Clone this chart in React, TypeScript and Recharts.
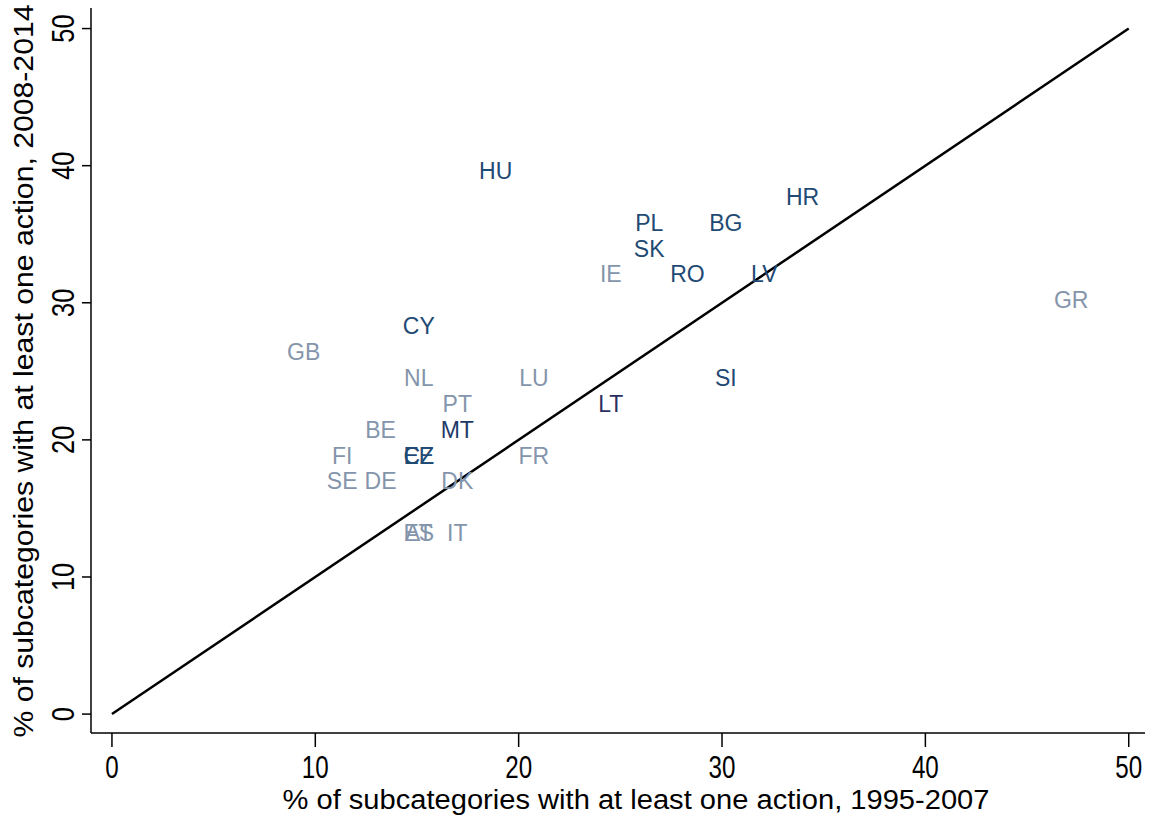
import React from "react";
import { ScatterChart, Scatter, XAxis, YAxis, ReferenceLine } from "recharts";

const countries = ["HU","HR","PL","BG","SK","IE","RO","LV","GR","CY","GB","NL","LU","SI","PT","LT","BE","MT","FI","CZ","EE","FR","SE","DE","DK","AT","ES","IT"];
const share1995 = [18.87,33.96,26.42,30.19,26.42,24.53,28.30,32.08,47.17,15.09,9.43,15.09,20.75,30.19,16.98,24.53,13.21,16.98,11.32,15.09,15.09,20.75,11.32,13.21,16.98,15.09,15.09,16.98];
const share2008 = [39.62,37.74,35.85,35.85,33.96,32.08,32.08,32.08,30.19,28.30,26.42,24.53,24.53,24.53,22.64,22.64,20.75,20.75,18.87,18.87,18.87,18.87,16.98,16.98,16.98,13.21,13.21,13.21];
const groups = ["dark","dark","dark","dark","dark","light","dark","dark","light","dark","light","light","light","dark","light","purple","light","navy","light","dark","dark","light","light","light","light","light","light","light"];
const xTicks = [0,10,20,30,40,50];
const yTicks = [0,10,20,30,40,50];
const diagonal = [{ x: 0, y: 0 }, { x: 50, y: 50 }];

const palette: Record<string, string> = {
  dark: "#1f4a74",
  navy: "#1d3a68",
  purple: "#2b2f5f",
  light: "#8495ab",
};

const data = countries.map((c, i) => ({ name: c, x: share1995[i], y: share2008[i], color: palette[groups[i]] }));

const FONT = "'Liberation Sans', Arial, sans-serif";

const LabelShape = (props: any) => {
  const { cx, cy, payload } = props;
  return (
    <text x={cx} y={cy} dy={8.2} textAnchor="middle" fontSize={23} fontFamily={FONT} fill={payload.color}>
      {payload.name}
    </text>
  );
};

const XTick = (props: any) => {
  const { x, payload } = props;
  return (
    <g transform={`translate(${x}, 778) scale(0.78, 1)`}>
      <text x={0} y={0} textAnchor="middle" fontSize={31} fontFamily={FONT} fill="#000">
        {String(payload.value)}
      </text>
    </g>
  );
};

const YTick = (props: any) => {
  const { y, payload } = props;
  return (
    <g transform={`translate(74, ${y}) rotate(-90) scale(0.82, 1)`}>
      <text x={0} y={0} textAnchor="middle" fontSize={31} fontFamily={FONT} fill="#000">
        {String(payload.value)}
      </text>
    </g>
  );
};

const XTitle = () => (
  <text x={636} y={809} textAnchor="middle" fontSize={27} fontFamily={FONT} fill="#000" textLength={707} lengthAdjust="spacingAndGlyphs">
    % of subcategories with at least one action, 1995-2007
  </text>
);

const YTitle = () => (
  <text transform="translate(33, 371) rotate(-90)" x={0} y={0} textAnchor="middle" fontSize={27} fontFamily={FONT} fill="#000" textLength={733} lengthAdjust="spacingAndGlyphs">
    % of subcategories with at least one action, 2008-2014
  </text>
);

export default function App() {
  return (
    <div style={{ position: "absolute", left: 0, top: 0, width: 1172, height: 821, background: "#fff" }}>
      <ScatterChart width={1172} height={821} margin={{ top: 8, right: 27, bottom: 0, left: 0 }}>
        <XAxis
          type="number"
          dataKey="x"
          domain={[-1.03, 50.8]}
          ticks={xTicks}
          height={88}
          tickSize={14}
          tick={<XTick />}
          axisLine={{ stroke: "#000", strokeWidth: 1.5 }}
          tickLine={{ stroke: "#000", strokeWidth: 1.5 }}
          allowDataOverflow
          label={<XTitle />}
        />
        <YAxis
          type="number"
          dataKey="y"
          domain={[-1.38, 51.5]}
          ticks={yTicks}
          width={91}
          tickSize={9}
          tick={<YTick />}
          axisLine={{ stroke: "#000", strokeWidth: 1.5 }}
          tickLine={{ stroke: "#000", strokeWidth: 1.5 }}
          allowDataOverflow
          label={<YTitle />}
        />
        <ReferenceLine segment={diagonal} stroke="#000" strokeWidth={2.5} ifOverflow="visible" />
        <Scatter data={data} shape={<LabelShape />} isAnimationActive={false} />
      </ScatterChart>
    </div>
  );
}
